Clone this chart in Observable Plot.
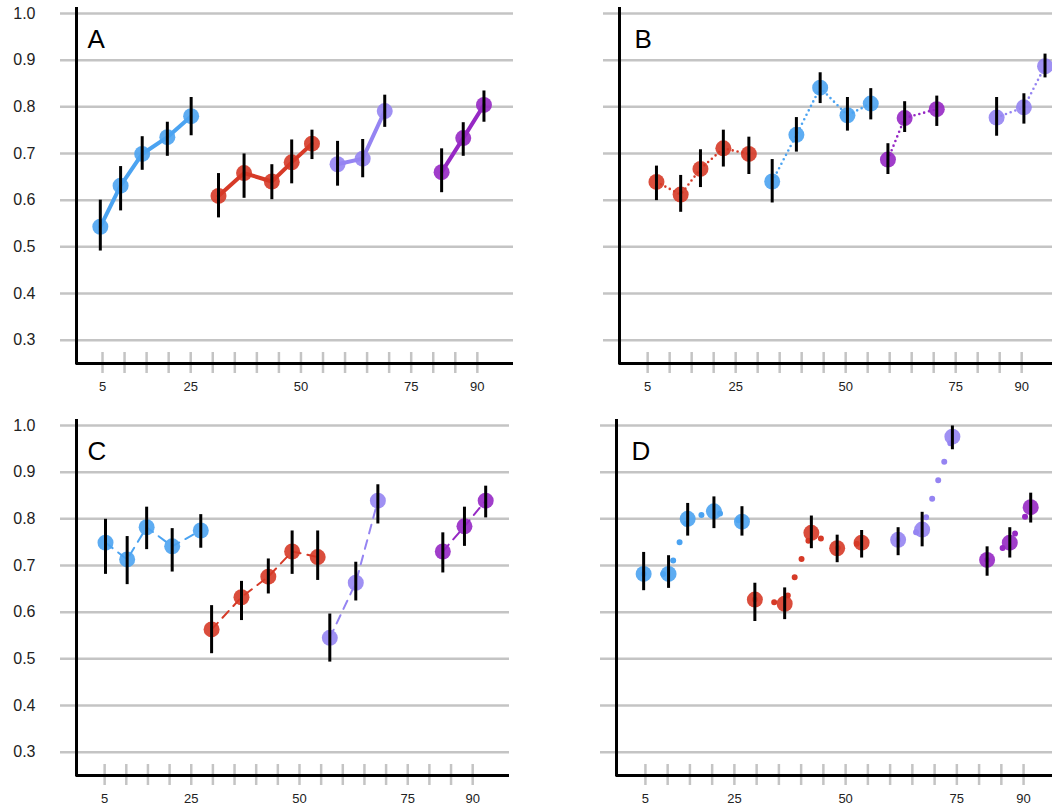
<!DOCTYPE html>
<html><head><meta charset="utf-8">
<script src="https://cdn.jsdelivr.net/npm/d3@7"></script>
<script src="https://cdn.jsdelivr.net/npm/@observablehq/plot@0.6"></script>
<style>
html,body{margin:0;padding:0;background:#fff;}
#wrap{position:relative;width:1052px;height:805px;overflow:hidden;}
.panel{position:absolute;}
</style></head><body><div id="wrap"></div>
<script>
// ---- data ----
const groupNames = ["grpBlue", "grpRed", "grpLavender", "grpPurple"];
const groupColors = ["#4ba3f1", "#d63a27", "#9584f2", "#9628c4"];
const yTicks = [0.3, 0.4, 0.5, 0.6, 0.7, 0.8, 0.9, 1.0];
const xTicks = [5, 10, 15, 20, 25, 30, 35, 40, 45, 50, 55, 60, 65, 70, 75, 80, 85, 90];
const xTickLabels = [5, 25, 50, 75, 90];
const panelLabels = ["A", "B", "C", "D"];

const A_g = ["grpBlue","grpBlue","grpBlue","grpBlue","grpBlue","grpRed","grpRed","grpRed","grpRed","grpRed","grpLavender","grpLavender","grpLavender","grpPurple","grpPurple","grpPurple"];
const A_x = [4.5, 9.1, 14.0, 19.7, 25.1, 31.3, 37.1, 43.4, 47.9, 52.5, 58.3, 64.0, 69.0, 81.9, 86.8, 91.5];
const A_y = [0.543, 0.631, 0.699, 0.735, 0.780, 0.609, 0.658, 0.640, 0.681, 0.721, 0.677, 0.689, 0.791, 0.660, 0.733, 0.804];
const A_lo = [0.491, 0.577, 0.664, 0.694, 0.738, 0.562, 0.604, 0.601, 0.635, 0.687, 0.630, 0.648, 0.756, 0.616, 0.694, 0.767];
const A_hi = [0.600, 0.672, 0.736, 0.767, 0.820, 0.657, 0.699, 0.676, 0.729, 0.750, 0.726, 0.730, 0.825, 0.710, 0.766, 0.834];

const B_g = ["grpRed","grpRed","grpRed","grpRed","grpRed","grpBlue","grpBlue","grpBlue","grpBlue","grpBlue","grpPurple","grpPurple","grpPurple","grpLavender","grpLavender","grpLavender"];
const B_x = [7.0, 12.5, 17.0, 22.2, 28.0, 33.3, 38.8, 44.2, 50.4, 55.7, 59.6, 63.4, 70.7, 84.3, 90.5, 95.3];
const B_y = [0.639, 0.612, 0.667, 0.711, 0.699, 0.640, 0.740, 0.841, 0.782, 0.807, 0.687, 0.776, 0.795, 0.777, 0.799, 0.887];
const B_lo = [0.599, 0.574, 0.627, 0.671, 0.655, 0.594, 0.703, 0.807, 0.748, 0.772, 0.655, 0.745, 0.758, 0.737, 0.763, 0.862];
const B_hi = [0.673, 0.653, 0.708, 0.750, 0.735, 0.687, 0.777, 0.873, 0.820, 0.839, 0.721, 0.811, 0.823, 0.820, 0.828, 0.913];

const C_g = A_g;
const C_x = [5.2, 10.2, 14.7, 20.6, 27.2, 29.7, 36.6, 42.8, 48.3, 54.2, 57.0, 63.0, 68.1, 83.1, 88.1, 93.0];
const C_y = [0.749, 0.713, 0.782, 0.741, 0.775, 0.563, 0.632, 0.676, 0.730, 0.718, 0.545, 0.663, 0.839, 0.730, 0.784, 0.839];
const C_lo = [0.681, 0.659, 0.734, 0.686, 0.737, 0.511, 0.582, 0.639, 0.681, 0.668, 0.493, 0.624, 0.789, 0.684, 0.741, 0.802];
const C_hi = [0.799, 0.762, 0.825, 0.779, 0.809, 0.614, 0.666, 0.714, 0.774, 0.774, 0.596, 0.707, 0.873, 0.770, 0.825, 0.870];

const D_g = A_g;
const D_x = [4.6, 10.2, 14.5, 20.4, 26.7, 29.6, 36.3, 42.3, 48.1, 53.6, 61.8, 67.2, 74.0, 81.8, 86.9, 91.6];
const D_y = [0.682, 0.682, 0.800, 0.816, 0.794, 0.627, 0.618, 0.770, 0.737, 0.749, 0.755, 0.777, 0.976, 0.712, 0.749, 0.825];
const D_lo = [0.646, 0.651, 0.763, 0.779, 0.763, 0.580, 0.584, 0.736, 0.706, 0.716, 0.721, 0.740, 0.948, 0.677, 0.716, 0.791];
const D_hi = [0.728, 0.721, 0.833, 0.847, 0.826, 0.662, 0.652, 0.806, 0.765, 0.775, 0.781, 0.814, 0.999, 0.740, 0.781, 0.855];

// ---- layout / styles ----
const FONT = "'Liberation Sans', Arial, Helvetica, sans-serif";
const GRID = "#c4c4c4";
const MT = 13;
const panels = [
  {label: panelLabels[0], left: 0, top: 0, width: 526, height: 412, ml: 76, mr: 13, xd: [-0.9, 98.2], ylab: true, dx: 11,
   data: [A_x, A_y, A_lo, A_hi, A_g], line: {strokeWidth: 4}},
  {label: panelLabels[1], left: 526, top: 0, width: 526, height: 412, ml: 93, mr: 0, xd: [-1.4, 97], ylab: false, dx: 15,
   data: [B_x, B_y, B_lo, B_hi, B_g], line: {strokeWidth: 2.6, strokeDasharray: "0,5", strokeLinecap: "round"}},
  {label: panelLabels[2], left: 0, top: 412, width: 526, height: 393, ml: 76, mr: 17, xd: [-1.5, 98.5], ylab: true, dx: 11,
   data: [C_x, C_y, C_lo, C_hi, C_g], line: {strokeWidth: 2, strokeDasharray: "9,7"}},
  {label: panelLabels[3], left: 526, top: 412, width: 526, height: 393, ml: 90, mr: 0, xd: [-1.5, 96.5], ylab: false, dx: 15,
   data: [D_x, D_y, D_lo, D_hi, D_g], line: {strokeWidth: 6, strokeDasharray: "0,19.5", strokeLinecap: "round"}}
];

const wrap = document.getElementById("wrap");
for (const p of panels) {
  const [xs, ys, lo, hi, gs] = p.data;
  const rows = xs.map((x, i) => ({x, y: ys[i], lo: lo[i], hi: hi[i], g: gs[i]}));
  const mb = p.height - 363;
  const frameH = p.height - MT - mb;
  const marks = [
    Plot.ruleY(yTicks, {stroke: GRID, strokeWidth: 2.5, insetLeft: -16}),
    Plot.tickX(xTicks, {x: d => d, stroke: GRID, strokeWidth: 2.5, insetTop: frameH - 11, insetBottom: -10}),
    Plot.ruleY([0.25], {stroke: "black", strokeWidth: 3}),
    Plot.ruleX([p.xd[0]], {stroke: "black", strokeWidth: 3, insetTop: -6, insetBottom: -1.5}),
    Plot.line(rows, {x: "x", y: "y", z: "g", stroke: "g", ...p.line}),
    Plot.dot(rows, {x: "x", y: "y", r: 8, fill: "g", fillOpacity: 0.9}),
    Plot.ruleX(rows, {x: "x", y1: "lo", y2: "hi", stroke: "black", strokeWidth: 3}),
    Plot.axisX({ticks: xTickLabels, tickSize: 0, tickPadding: 18, fontSize: 13, fill: "#222", label: null, tickFormat: d => String(d)}),
    Plot.text([p.label], {text: d => d, frameAnchor: "top-left", dx: p.dx, dy: 16, lineAnchor: "top", textAnchor: "start", fontSize: 26, fill: "black"})
  ];
  if (p.ylab) marks.push(Plot.axisY({ticks: yTicks, tickSize: 0, tickPadding: 41, fontSize: 16, fill: "#222", label: null, tickFormat: d3.format(".1f")}));
  const svg = Plot.plot({
    width: p.width, height: p.height,
    marginLeft: p.ml, marginRight: p.mr, marginTop: MT, marginBottom: mb,
    x: {domain: p.xd, axis: null},
    y: {domain: [0.25, 1.0], axis: null},
    color: {type: "ordinal", domain: groupNames, range: groupColors},
    style: {fontFamily: FONT, background: "transparent", overflow: "visible"},
    marks
  });
  const div = document.createElement("div");
  div.className = "panel";
  div.style.left = p.left + "px";
  div.style.top = p.top + "px";
  div.appendChild(svg);
  wrap.appendChild(div);
}
</script></body></html>
